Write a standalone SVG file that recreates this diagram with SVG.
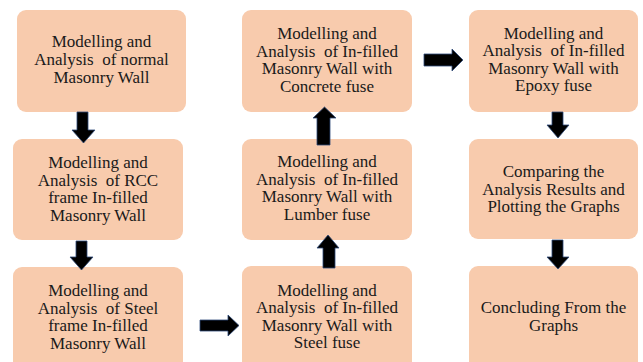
<svg xmlns="http://www.w3.org/2000/svg" width="643" height="362" viewBox="0 0 643 362">
<style>
.box{fill:#F8CBAD;}
.t{font-family:"Liberation Serif","DejaVu Serif",serif;font-size:17px;fill:#1a1a1a;text-anchor:middle;white-space:pre;}
.arr{fill:#000;stroke:#2E4A78;stroke-width:0.8;stroke-linejoin:miter;}
</style>
<rect width="643" height="362" fill="#fff"/>
<g id="n1"><rect class="box" x="17" y="10" width="169" height="102" rx="9"/>
<text class="t" xml:space="preserve"><tspan x="101.5" y="47">Modelling and</tspan><tspan x="101.5" y="65">Analysis  of normal</tspan><tspan x="101.5" y="83">Masonry Wall</tspan></text></g>
<g id="n2"><rect class="box" x="13" y="139" width="170" height="101" rx="9"/>
<text class="t" xml:space="preserve"><tspan x="98" y="168">Modelling and</tspan><tspan x="98" y="185.5">Analysis  of RCC</tspan><tspan x="98" y="203">frame In-filled</tspan><tspan x="98" y="220.5">Masonry Wall</tspan></text></g>
<g id="n3"><rect class="box" x="13" y="267" width="170" height="110" rx="9"/>
<text class="t" xml:space="preserve"><tspan x="98" y="296">Modelling and</tspan><tspan x="98" y="313.5">Analysis  of Steel</tspan><tspan x="98" y="331">frame In-filled</tspan><tspan x="98" y="348.5">Masonry Wall</tspan></text></g>
<g id="n4"><rect class="box" x="242" y="10" width="170" height="102" rx="9"/>
<text class="t" xml:space="preserve"><tspan x="327" y="39">Modelling and</tspan><tspan x="327" y="56.5">Analysis  of In-filled</tspan><tspan x="327" y="74">Masonry Wall with</tspan><tspan x="327" y="91.5">Concrete fuse</tspan></text></g>
<g id="n5"><rect class="box" x="242" y="139" width="170" height="101" rx="9"/>
<text class="t" xml:space="preserve"><tspan x="327" y="167">Modelling and</tspan><tspan x="327" y="184.5">Analysis  of In-filled</tspan><tspan x="327" y="202">Masonry Wall with</tspan><tspan x="327" y="219.5">Lumber fuse</tspan></text></g>
<g id="n6"><rect class="box" x="242" y="266" width="170" height="111" rx="9"/>
<text class="t" xml:space="preserve"><tspan x="327" y="295.5">Modelling and</tspan><tspan x="327" y="313">Analysis  of In-filled</tspan><tspan x="327" y="330.5">Masonry Wall with</tspan><tspan x="327" y="348">Steel fuse</tspan></text></g>
<g id="n7"><rect class="box" x="469" y="10" width="169" height="102" rx="9"/>
<text class="t" xml:space="preserve"><tspan x="553.5" y="38.5">Modelling and</tspan><tspan x="553.5" y="56">Analysis  of In-filled</tspan><tspan x="553.5" y="73.5">Masonry Wall with</tspan><tspan x="553.5" y="91">Epoxy fuse</tspan></text></g>
<g id="n8"><rect class="box" x="469" y="139" width="169" height="100" rx="9"/>
<text class="t"><tspan x="553.5" y="177">Comparing the</tspan><tspan x="553.5" y="194.5">Analysis Results and</tspan><tspan x="553.5" y="212">Plotting the Graphs</tspan></text></g>
<g id="n9"><rect class="box" x="469" y="266" width="169" height="111" rx="9"/>
<text class="t"><tspan x="553.5" y="313">Concluding From the</tspan><tspan x="553.5" y="330.5">Graphs</tspan></text></g>
<g id="connectors">
<polygon class="arr" points="77,112 88,112 88,130 95,130 83.5,143 72,130 77,130"/>
<polygon class="arr" points="76,241 87,241 87,257 93,257 81.5,270 70,257 76,257"/>
<polygon class="arr" points="200,320 228,320 228,315 239,325.5 228,336 228,331 200,331"/>
<polygon class="arr" points="323,268 335,268 335,248 339,248 328,235 317,248 323,248"/>
<polygon class="arr" points="317,145 330,145 330,118 336,118 324.5,107 313,118 317,118"/>
<polygon class="arr" points="424,54 452,54 452,49 463,60 452,71 452,66 424,66"/>
<polygon class="arr" points="552,112 563,112 563,125 569,125 558,138 547,125 552,125"/>
<polygon class="arr" points="552,240 563,240 563,257 569,257 558,269 547,257 552,257"/>
</g>
</svg>
